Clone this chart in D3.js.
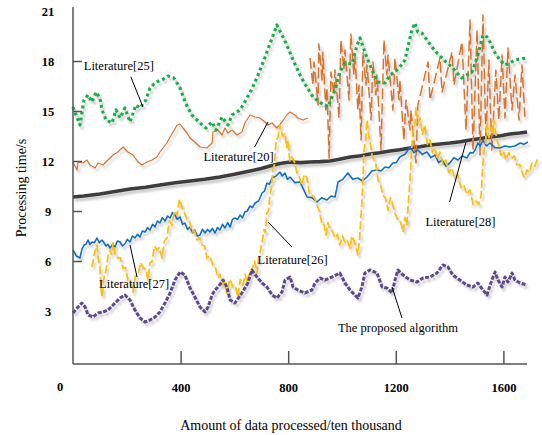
<!DOCTYPE html>
<html>
<head>
<meta charset="utf-8">
<script src="https://cdn.jsdelivr.net/npm/d3@7"></script>
<style>
  body { margin: 0; background: #fff; }
  svg text { font-family: "Liberation Serif", "Times New Roman", serif; }
</style>
</head>
<body>
<svg id="chart" width="542" height="435"></svg>
<script>
// values: [amount of data, processing time]
const lit25 = [[0,15.24],[26,14.16],[41,15.66],[56,15.96],[71,15.54],[86,16.14],[100,15.78],[108,15.06],[123,14.46],[145,14.28],[160,15.06],[175,14.58],[193,15.18],[212,14.34],[234,15.36],[249,15.18],[271,15.66],[286,16.38],[308,16.74],[331,16.86],[353,17.1],[375,16.98],[398,16.38],[420,15.42],[442,14.76],[472,14.28],[494,13.98],[517,14.34],[532,13.86],[554,14.64],[576,14.16],[591,14.76],[621,15.06],[643,15.66],[665,16.32],[688,17.16],[710,18.06],[732,19.02],[758,20.16],[777,19.56],[795,18.96],[818,18.06],[844,17.16],[862,16.62],[892,15.84],[922,15.48],[948,15.24],[974,16.26],[992,17.34],[1011,17.88],[1037,17.82],[1056,18.96],[1067,19.38],[1089,18.36],[1111,17.46],[1134,16.74],[1160,16.68],[1178,17.16],[1197,17.34],[1215,17.64],[1234,18.06],[1245,18.84],[1260,19.86],[1271,20.28],[1282,19.74],[1297,19.68],[1316,19.26],[1334,18.84],[1353,18.48],[1372,18.18],[1390,17.88],[1409,17.64],[1427,17.28],[1446,16.98],[1464,17.16],[1483,17.34],[1502,18.18],[1513,18.84],[1524,19.56],[1539,19.44],[1550,19.14],[1569,18.48],[1587,18.06],[1606,17.76],[1624,17.88],[1643,18.06],[1662,18.12],[1688,18.18]];

const lit20a = [[0,11.94],[15,11.46],[19,11.94],[37,11.88],[52,12.06],[63,11.76],[82,11.58],[93,11.88],[112,11.76],[130,12.06],[149,12.36],[167,12.54],[186,12.84],[204,12.54],[223,12.36],[242,11.94],[256,11.76],[275,11.94],[294,12.06],[312,12.24],[323,12.54],[349,13.08],[361,13.44],[372,13.74],[387,14.16],[398,14.22],[409,13.98],[424,13.68],[435,13.38],[453,13.14],[472,12.84],[498,12.78],[517,13.08],[520,13.74],[539,13.86],[554,13.56],[565,13.98],[576,13.68],[591,13.86],[610,13.56],[628,13.74],[639,14.28],[658,14.76],[677,14.64],[695,14.58],[714,14.34],[725,14.16],[740,14.28],[758,13.98],[777,14.34],[795,14.76],[807,14.94],[825,14.76],[836,14.58],[855,14.46],[873,14.58]];

const lit20b = [[881,18.18],[892,16.56],[896,17.94],[911,15.36],[914,19.02],[926,16.86],[929,18.54],[940,15.06],[944,16.38],[952,12.18],[959,17.34],[970,15.96],[974,17.46],[989,14.58],[996,19.26],[1007,17.46],[1011,18.66],[1026,15.66],[1033,19.62],[1044,17.16],[1048,18.36],[1059,15.06],[1063,16.56],[1071,13.26],[1078,18.54],[1089,16.56],[1093,17.76],[1108,14.46],[1115,17.94],[1126,15.96],[1130,17.16],[1145,12.66],[1156,19.26],[1167,17.16],[1171,18.36],[1189,15.06],[1197,18.18],[1212,15.66],[1215,16.86],[1230,13.26],[1238,15.66],[1253,13.86],[1256,15.06],[1275,11.88],[1282,15.36],[1320,17.94],[1327,15.66],[1364,18.18],[1372,16.14],[1409,18.54],[1416,16.56],[1446,19.14],[1461,13.86],[1476,20.46],[1487,12.66],[1502,19.86],[1513,12.36],[1524,20.76],[1535,13.26],[1546,18.06],[1557,12.66],[1572,17.46],[1583,14.46],[1595,18.36],[1606,14.58],[1617,18.78],[1632,15.06],[1643,17.16],[1658,14.46],[1669,17.76],[1680,14.64]];

const lit28 = [[0,9.84],[40,9.9],[100,10.02],[150,10.15],[212,10.32],[270,10.42],[323,10.56],[380,10.7],[435,10.8],[490,10.9],[546,11.04],[600,11.2],[658,11.4],[700,11.55],[732,11.7],[770,11.85],[807,11.94],[845,11.9],[881,11.94],[920,11.96],[955,12.0],[990,12.1],[1030,12.24],[1070,12.32],[1104,12.42],[1140,12.5],[1178,12.6],[1215,12.68],[1253,12.78],[1290,12.86],[1327,12.96],[1365,13.02],[1401,13.08],[1440,13.16],[1476,13.26],[1510,13.34],[1550,13.44],[1590,13.52],[1624,13.62],[1660,13.68],[1688,13.74]];

const lit27 = [[0,6.66],[13,6.3],[26,6.18],[33,6.7],[41,6.96],[48,7.0],[56,7.26],[63,7.0],[71,7.14],[80,7.1],[89,7.38],[98,7.1],[108,7.26],[115,7.1],[123,6.9],[130,7.0],[138,6.78],[147,7.0],[156,6.84],[165,7.2],[175,7.14],[184,6.9],[193,7.02],[202,7.3],[212,7.14],[221,7.5],[230,7.38],[240,7.6],[249,7.44],[258,7.8],[268,7.74],[277,8.0],[286,7.86],[296,8.2],[305,8.04],[314,8.4],[323,8.28],[332,8.6],[342,8.4],[352,8.7],[361,8.58],[370,8.9],[379,8.76],[388,8.5],[398,8.64],[407,8.2],[416,8.28],[426,7.9],[435,8.04],[444,7.7],[453,7.86],[462,7.5],[472,7.56],[481,7.9],[491,7.68],[500,7.9],[509,7.74],[518,7.95],[528,7.68],[537,8.0],[546,7.86],[556,8.2],[565,7.98],[575,8.3],[584,8.04],[593,8.5],[602,8.58],[612,8.5],[621,8.76],[630,8.6],[639,8.94],[648,9.0],[658,9.3],[667,9.2],[677,9.48],[690,9.6],[703,10.08],[712,10.2],[721,10.68],[730,10.6],[740,10.98],[755,11.1],[769,11.34],[778,11.1],[788,11.28],[797,10.9],[807,11.04],[825,10.7],[844,10.74],[857,10.3],[870,9.84],[888,9.8],[907,9.54],[925,9.8],[944,9.66],[959,9.9],[974,9.84],[980,10.3],[985,10.74],[1003,10.9],[1022,11.28],[1040,10.9],[1059,10.98],[1076,10.8],[1093,11.04],[1111,11.4],[1130,11.46],[1145,11.4],[1160,11.64],[1175,11.6],[1189,11.88],[1202,11.9],[1215,12.24],[1234,12.4],[1253,12.84],[1267,12.5],[1282,12.66],[1299,12.4],[1316,12.54],[1331,12.2],[1346,12.36],[1359,11.9],[1372,12.06],[1386,11.7],[1401,11.88],[1416,12.2],[1431,12.06],[1447,12.3],[1464,12.18],[1476,12.5],[1487,12.48],[1496,12.7],[1505,13.08],[1514,12.9],[1524,13.26],[1537,12.9],[1550,13.08],[1568,12.8],[1587,12.78],[1605,12.9],[1624,12.84],[1643,12.9],[1662,13.08],[1676,13.0],[1691,13.14]];

const lit26 = [[71,5.64],[80,6.5],[89,6.96],[95,6.0],[100,5.76],[104,4.4],[108,3.84],[115,5.0],[123,5.46],[130,6.3],[138,6.66],[143,6.4],[149,7.08],[158,6.3],[167,6.18],[176,6.2],[186,5.58],[195,5.6],[204,4.86],[213,4.9],[223,4.14],[232,5.1],[242,5.16],[251,5.9],[260,5.64],[270,5.5],[279,4.86],[286,5.9],[294,5.94],[303,6.9],[312,6.66],[321,6.8],[331,6.18],[340,7.2],[349,7.38],[358,8.4],[368,8.16],[377,9.0],[387,8.76],[396,9.7],[405,9.24],[414,8.9],[424,8.46],[433,8.4],[442,7.74],[452,7.8],[461,7.26],[470,7.4],[480,6.96],[489,6.9],[498,6.18],[509,6.3],[520,5.76],[530,5.6],[539,4.98],[546,5.2],[554,4.56],[563,4.7],[572,4.08],[583,4.9],[595,4.44],[604,4.5],[613,3.84],[622,4.9],[632,4.56],[640,5.2],[647,4.68],[656,5.3],[665,5.46],[675,6.0],[684,5.28],[690,6.2],[695,6.48],[703,7.1],[710,7.86],[715,7.7],[721,8.88],[727,9.0],[732,9.96],[738,10.4],[743,11.46],[749,11.8],[755,13.26],[762,13.4],[769,14.16],[779,13.5],[788,13.68],[794,12.8],[799,13.26],[806,12.0],[814,12.24],[824,11.9],[833,11.28],[842,11.0],[851,10.56],[860,11.2],[870,10.98],[879,10.0],[888,9.96],[898,9.8],[907,9.36],[916,9.0],[926,8.16],[933,8.2],[940,7.56],[948,8.3],[955,7.86],[964,7.8],[974,7.38],[983,7.6],[992,6.96],[1002,7.5],[1011,7.08],[1020,7.2],[1030,6.78],[1037,7.5],[1044,7.26],[1052,6.8],[1059,6.36],[1065,7.2],[1071,8.76],[1077,10.4],[1082,12.66],[1088,13.2],[1093,14.46],[1099,13.5],[1104,13.26],[1111,12.4],[1119,12.06],[1126,11.8],[1134,10.86],[1143,10.6],[1152,9.96],[1161,9.8],[1171,9.06],[1180,9.8],[1189,9.36],[1198,8.8],[1208,8.46],[1217,8.4],[1227,7.74],[1234,8.6],[1241,8.16],[1247,9.6],[1253,10.86],[1258,12.5],[1264,13.86],[1270,14.0],[1275,15.18],[1283,14.3],[1290,14.58],[1299,13.6],[1308,14.16],[1317,13.0],[1327,13.26],[1336,12.5],[1346,12.78],[1355,12.1],[1364,12.54],[1375,11.8],[1386,12.06],[1397,11.3],[1409,11.58],[1420,10.9],[1431,11.16],[1442,10.4],[1453,10.56],[1464,10.0],[1476,10.26],[1487,9.4],[1498,9.6],[1508,9.4],[1517,9.9],[1523,11.6],[1528,12.6],[1533,13.0],[1539,14.34],[1546,13.4],[1554,13.98],[1560,13.6],[1565,14.46],[1570,13.8],[1576,13.26],[1583,12.9],[1591,12.36],[1600,12.6],[1609,12.06],[1620,12.5],[1632,12.18],[1641,12.3],[1650,11.76],[1660,11.8],[1669,11.34],[1678,11.0],[1688,11.46],[1697,11.3],[1706,11.88],[1717,11.7],[1728,12.18]];

const proposed = [[0,2.88],[19,3.24],[33,3.48],[45,3.24],[56,2.76],[74,2.64],[93,2.88],[112,2.94],[130,3.06],[149,3.36],[175,3.78],[193,3.96],[212,3.66],[230,3.06],[249,2.58],[268,2.34],[286,2.46],[305,2.64],[323,2.94],[342,3.48],[361,4.08],[379,4.86],[398,5.34],[416,5.16],[435,4.38],[453,3.84],[472,3.24],[491,2.94],[502,3.24],[517,3.96],[528,4.26],[539,4.44],[558,4.86],[572,4.44],[584,3.66],[602,3.48],[628,4.08],[650,4.68],[665,5.46],[684,5.04],[703,4.68],[721,4.44],[740,3.96],[758,3.78],[777,4.14],[788,4.86],[807,5.04],[818,4.44],[836,4.26],[862,4.08],[888,4.26],[900,4.68],[918,4.98],[937,4.86],[963,5.04],[992,5.28],[1011,4.68],[1030,4.26],[1048,3.96],[1059,3.78],[1074,4.44],[1085,5.28],[1104,5.46],[1130,5.28],[1149,4.44],[1167,4.38],[1186,4.08],[1197,4.86],[1208,5.46],[1227,5.16],[1253,4.86],[1279,4.74],[1301,4.98],[1327,5.04],[1353,5.28],[1375,5.76],[1394,5.64],[1412,5.16],[1438,4.86],[1464,4.56],[1487,4.44],[1505,4.68],[1524,4.26],[1539,3.96],[1557,4.86],[1569,5.34],[1580,4.86],[1595,4.44],[1606,5.04],[1617,4.74],[1632,5.28],[1643,4.86],[1662,4.68],[1688,4.56]];

const xTicks = [400, 800, 1200, 1600];
const yLabels = [3, 6, 9, 12, 15, 18, 21];
const yTickMarks = [6, 9, 12, 15, 18];

// labels with their leader lines: [text, textX, textY, lineFrom, lineTo] in data units
const callouts = [
  ["Literature[25]", 40, 17.45, [215, 17.05], [260, 15.24]],
  ["Literature[20]", 485, 12.0, [675, 12.84], [725, 14.34]],
  ["Literature[28]", 1310, 8.1, [1400, 9.54], [1461, 13.14]],
  ["Literature[26]", 686, 5.84, [725, 8.34], [814, 6.84]],
  ["Literature[27]", 97, 4.4, [212, 6.96], [238, 5.04]],
  ["The proposed algorithm", 985, 1.74, [1186, 4.44], [1223, 2.58]]
];

const svg = d3.select("#chart");

const x = d3.scaleLinear().domain([0, 1600]).range([73, 503.4]);
const y = d3.scaleLinear().domain([0, 21]).range([361, 11]);

const defs = svg.append("defs");
defs.append("filter")
  .attr("id", "shadow")
  .attr("x", "-5%").attr("y", "-5%").attr("width", "115%").attr("height", "120%")
  .append("feDropShadow")
  .attr("dx", 2).attr("dy", 3)
  .attr("stdDeviation", 0.9)
  .attr("flood-color", "#8c8c8c")
  .attr("flood-opacity", 0.45);

const line = d3.line().x(d => x(d[0])).y(d => y(d[1]));

const series = [
  { data: lit28, color: "#3d3d3d", width: 3.6, dash: null },
  { data: lit20a, color: "#d8742a", width: 1.2, dash: null },
  { data: lit20b, color: "#d8742a", width: 1.5, dash: "11,4" },
  { data: lit25, color: "#19b04b", width: 3.2, dash: "3,3" },
  { data: lit27, color: "#0f6fc6", width: 1.6, dash: null },
  { data: lit26, color: "#ffc000", width: 1.8, dash: "8,3" },
  { data: proposed, color: "#5d4a8c", width: 3, dash: "4,1.5" }
];

const lines = svg.append("g").attr("filter", "url(#shadow)");
series.forEach(s => {
  lines.append("path")
    .datum(s.data)
    .attr("fill", "none")
    .attr("stroke", s.color)
    .attr("stroke-width", s.width)
    .attr("stroke-dasharray", s.dash)
    .attr("stroke-linejoin", "round")
    .attr("d", line);
});

// axes
const axisColor = "#555";

const gx = svg.append("g")
  .attr("transform", "translate(0,364)")
  .call(d3.axisBottom(x).tickValues(xTicks).tickFormat(d3.format("d"))
    .tickSizeInner(-13).tickSizeOuter(0).tickPadding(19));
gx.select(".domain").remove();
gx.selectAll(".tick line").attr("stroke", axisColor).attr("stroke-width", 1.5);
gx.selectAll(".tick text")
  .attr("fill", "#000")
  .style("font-family", "'Liberation Serif', serif")
  .style("font-size", "12.5px")
  .style("font-weight", "bold");

svg.append("line")
  .attr("x1", x(0)).attr("x2", x(1688))
  .attr("y1", 364).attr("y2", 364)
  .attr("stroke", axisColor).attr("stroke-width", 1.5);

svg.append("text")
  .attr("x", x(0) - 13).attr("y", 391)
  .attr("text-anchor", "middle")
  .style("font-size", "12.5px").style("font-weight", "bold")
  .text("0");

const gyLab = svg.append("g")
  .attr("transform", "translate(73,0)")
  .call(d3.axisLeft(y).tickValues(yLabels).tickSize(0));
gyLab.select(".domain").remove();
gyLab.selectAll(".tick text")
  .attr("x", -25)
  .attr("text-anchor", "middle")
  .attr("fill", "#000")
  .style("font-family", "'Liberation Serif', serif")
  .style("font-size", "12.5px")
  .style("font-weight", "bold");

const gyTick = svg.append("g")
  .attr("transform", "translate(73,0)")
  .call(d3.axisLeft(y).tickValues(yTickMarks).tickSizeInner(-9).tickSizeOuter(0).tickFormat(""));
gyTick.select(".domain").remove();
gyTick.selectAll(".tick line").attr("stroke", axisColor).attr("stroke-width", 1.5);

svg.append("line")
  .attr("x1", 73).attr("x2", 73)
  .attr("y1", 7).attr("y2", 364)
  .attr("stroke", axisColor).attr("stroke-width", 1.5);

// axis titles
svg.append("text")
  .attr("x", 291).attr("y", 430)
  .attr("text-anchor", "middle")
  .style("font-size", "14px")
  .text("Amount of data processed/ten thousand");

svg.append("text")
  .attr("transform", "translate(26,188) rotate(-90)")
  .attr("text-anchor", "middle")
  .style("font-size", "14px")
  .text("Processing time/s");

// callouts
const cg = svg.append("g");
callouts.forEach(([label, tx, ty, p1, p2]) => {
  cg.append("line")
    .attr("x1", x(p1[0])).attr("y1", y(p1[1]))
    .attr("x2", x(p2[0])).attr("y2", y(p2[1]))
    .attr("stroke", "#000").attr("stroke-width", 1);
  cg.append("text")
    .attr("x", x(tx)).attr("y", y(ty))
    .style("font-size", "12.5px")
    .text(label);
});
</script>
</body>
</html>
